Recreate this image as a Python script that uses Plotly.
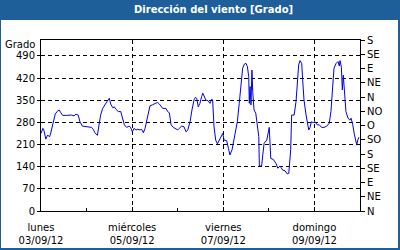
import pandas as pd
import plotly.graph_objects as go

# hours since 2012-09-03 00:00 and wind direction (degrees, unwrapped scale 0..540)
hours = [0, 1, 1.5, 2.5, 3.5, 4.5, 5, 6, 6.7, 7.5, 8.6, 9.6, 10.5, 11.4, 13.5, 16.2, 17.4, 18.4, 19.6,
         20.5, 21.8, 26.7, 27.5, 28.4, 29.7, 30.7, 31.4, 32.5, 33.7, 34.9, 36, 36.7, 37.8, 38.6, 39.5,
         40.7, 42, 42.7, 43.9, 45.1, 46.3, 47.2, 48.1, 49, 50, 50.9, 52.1, 53, 53.9, 54.8, 56, 57.4,
         58.6, 60, 61.3, 62.3, 64.1, 65.8, 66.7, 67.6, 68.5, 69.7, 71.1, 72, 72.8, 74.1, 75.3, 76.4,
         77.3, 78.5, 79.5, 80.6, 81.3, 82, 82.8, 83.7, 84.6, 85.2, 85.9, 86.7, 88, 89, 89.9, 90.4,
         91.1, 92, 92.9, 93.8, 94.6, 95.7, 96.4, 97.8, 98.7, 99.5, 100.6, 101.3, 102.5, 103.4, 104.4,
         105.2, 106.2, 107.1, 108, 108.7, 109.4, 109.7, 110.1, 110.6, 111.1, 111.5, 112.2, 113.1,
         113.9, 114.7, 115, 116.2, 116.8, 117.5, 118.9, 119.7, 120.2, 121, 122.3, 123.8, 124.7, 125.9,
         127.3, 128.5, 129.7, 130.5, 131.5, 132, 133.3, 134.3, 135, 135.7, 136.4, 137.3, 137.8, 138.5,
         139.6, 140.3, 141, 141.7, 142.4, 143.4, 144.3, 145.5, 146.6, 147.8, 149.1, 150.5, 151.8,
         152.7, 153.4, 154.3, 155.4, 156.4, 157.1, 157.5, 158.2, 158.7, 159.2, 160, 160.6, 161.7,
         162.7, 163.3, 164.2, 165, 165.8, 166.3, 166.8, 167.5]
direction = [245, 261, 256, 227, 240, 234, 243, 266, 290, 306, 315, 319, 310, 302, 302, 303, 300, 306, 303,
             282, 268, 264, 258, 247, 239, 282, 303, 324, 337, 347, 356, 338, 326, 329, 321,
             314, 314, 298, 272, 264, 268, 264, 250, 261, 256, 258, 256, 258, 247, 261, 298, 332,
             335, 340, 343, 338, 324, 324, 314, 310, 272, 264, 258, 256, 261, 268, 266, 250,
             256, 282, 319, 351, 359, 356, 329, 340, 361, 372, 363, 351, 348, 340, 353, 351,
             268, 224, 212, 224, 235, 245, 224, 222, 198, 177, 193, 214, 256, 282, 340,
             398, 451, 464, 466, 456, 424, 340, 393, 335, 445, 377, 319, 309,
             272, 235, 142, 142, 177, 214, 224, 256, 264, 166, 163, 150, 135, 142,
             129, 127, 117, 119, 193, 303, 303, 345, 414, 461, 475, 466, 414, 351,
             303, 272, 256, 264, 282, 279, 282, 272, 272, 264, 264, 268, 277,
             314, 393, 451, 466, 472, 458, 475, 454, 382, 429, 351, 314, 293,
             287, 293, 272, 243, 222, 208, 224, 233]

x_tickvals = ["2012-09-03", "2012-09-05", "2012-09-07", "2012-09-09"]
x_ticktext = ["lunes<br>03/09/12", "miércoles<br>05/09/12", "viernes<br>07/09/12", "domingo<br>09/09/12"]
y_tickvals = [0, 70, 140, 210, 280, 350, 420, 490]
y2_tickvals = [0, 45, 90, 135, 180, 225, 270, 315, 360, 405, 450, 495, 540]
y2_ticktext = ["N", "NE", "E", "SE", "S", "SO", "O", "NO", "N", "NE", "E", "SE", "S"]

times = pd.Timestamp("2012-09-03") + pd.to_timedelta(hours, unit="h")

BLUE = "#1E5F99"
FONT = "DejaVu Sans"

# plot area in pixels: x 41..360, y 40..211
L, R, T, B = 41, 360, 40, 211
W, H = R - L, B - T
px = lambda x: (x - L) / W
py = lambda y: (B - y) / H

fig = go.Figure()
fig.add_trace(go.Scatter(x=times, y=direction, mode="lines",
                         line=dict(color="#0000EE", width=1), showlegend=False, hoverinfo="skip"))
fig.add_trace(go.Scatter(x=[times[0]], y=[0], yaxis="y2", mode="markers",
                         marker=dict(opacity=0), showlegend=False, hoverinfo="skip"))

fig.update_layout(
    width=400, height=250,
    margin=dict(l=L, r=400 - R, t=T, b=250 - B),
    paper_bgcolor=BLUE, plot_bgcolor="white",
    font=dict(family=FONT, size=10, color="#000000"),
    xaxis=dict(type="date", range=["2012-09-03", "2012-09-10"], automargin=False,
               tickvals=x_tickvals, ticktext=x_ticktext, tickangle=0,
               showline=True, linecolor="black", linewidth=1, mirror=True,
               ticks="inside", ticklen=4, tickcolor="black", ticklabelstandoff=7,
               showgrid=True, gridcolor="black", griddash="4px,3px", gridwidth=1,
               minor=dict(dtick=86400000, ticks="inside", ticklen=3, tickcolor="black", showgrid=False),
               zeroline=False, tickfont=dict(size=10)),
    yaxis=dict(range=[0, 540], tickvals=y_tickvals, automargin=False,
               showline=True, linecolor="black", linewidth=1,
               ticks="outside", ticklen=3, tickcolor="black",
               showgrid=True, gridcolor="black", griddash="4px,3px", gridwidth=1,
               zeroline=False, tickfont=dict(size=10)),
    yaxis2=dict(range=[0, 540], overlaying="y", side="right", automargin=False,
                tickvals=y2_tickvals, ticktext=y2_ticktext,
                showline=True, linecolor="black", linewidth=1,
                ticks="outside", ticklen=4, tickcolor="black",
                showgrid=False, zeroline=False, tickfont=dict(size=10)),
    shapes=[dict(type="rect", xref="paper", yref="paper", layer="below",
                 x0=px(1), x1=px(398), y0=py(248), y1=py(20),
                 fillcolor="white", line=dict(width=0))],
    annotations=[
        dict(text="<b>Dirección del viento [Grado]</b>", xref="paper", yref="paper",
             x=px(213), y=py(10), xanchor="center", yanchor="middle", showarrow=False,
             font=dict(family=FONT, size=10, color="white")),
        dict(text="Grado", xref="paper", yref="paper", x=px(37), y=py(44),
             xanchor="right", yanchor="middle", showarrow=False,
             font=dict(family=FONT, size=10, color="black")),
    ],
)

fig.write_html("out.html")
